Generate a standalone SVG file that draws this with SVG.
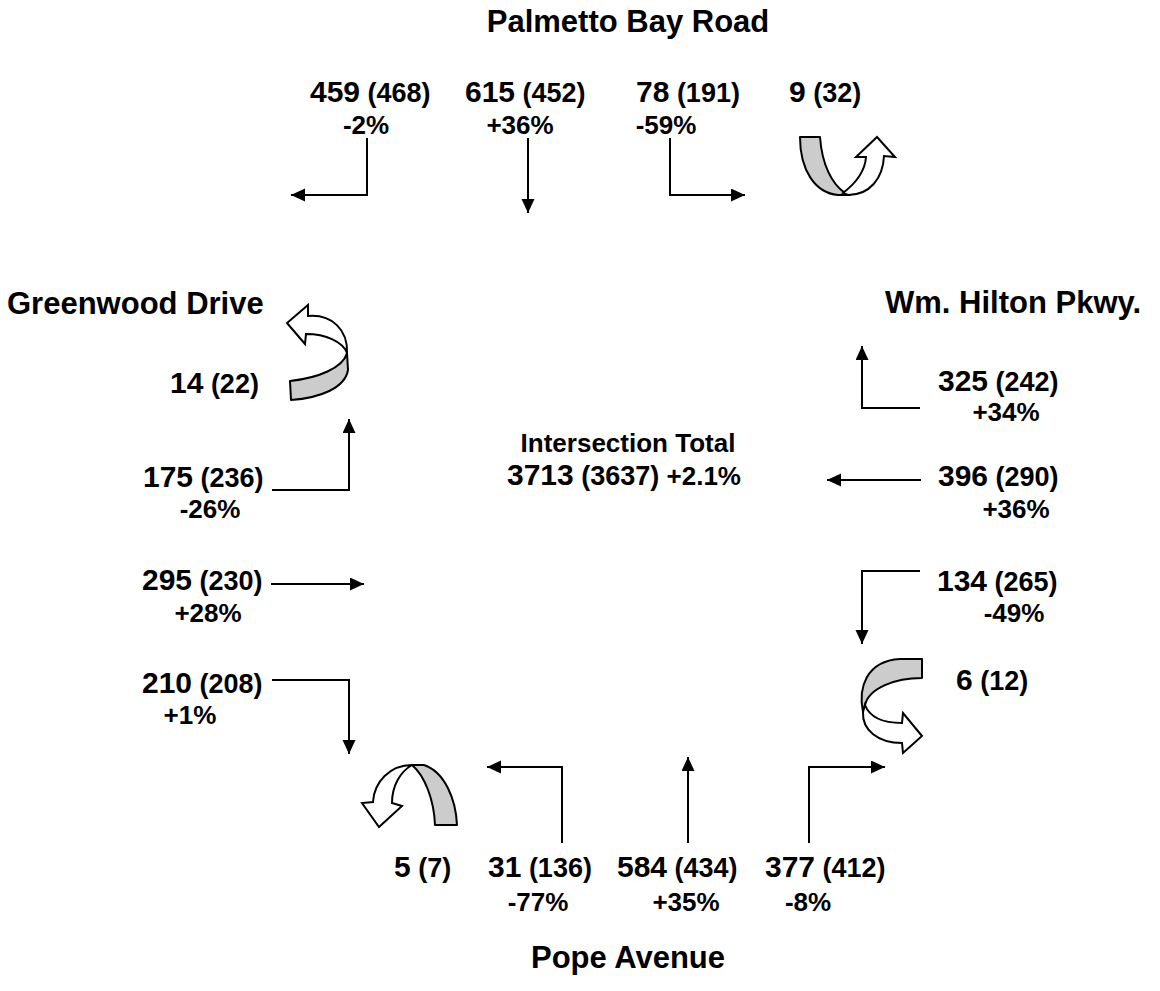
<svg xmlns="http://www.w3.org/2000/svg" width="1160" height="991" viewBox="0 0 1160 991">
<style>
text{font-family:"Liberation Sans",Arial,sans-serif;font-weight:bold;fill:#000}
.road{font-size:31px}
.big{font-size:30px}
.sm{font-size:27px}
.pct{font-size:26px;text-anchor:middle}
.mid{text-anchor:middle}
.arr{fill:none;stroke:#000;stroke-width:2;marker-end:url(#ah)}
.gray{fill:#cccccc;stroke:#000;stroke-width:2;stroke-linejoin:round}
.white{fill:#fff;stroke:#000;stroke-width:2;stroke-linejoin:miter}
</style>
<defs>
<marker id="ah" markerUnits="userSpaceOnUse" markerWidth="15" markerHeight="14" refX="14" refY="6.5" orient="auto">
<path d="M0,0 L14,6.5 L0,13 Z" fill="#000"/>
</marker>
</defs>
<rect width="1160" height="991" fill="#fff"/>

<g id="roads">
<text class="road mid" x="628" y="32">Palmetto Bay Road</text>
<text class="road" x="7" y="314">Greenwood Drive</text>
<text class="road" x="885" y="313">Wm. Hilton Pkwy.</text>
<text class="road mid" x="628" y="968">Pope Avenue</text>
</g>

<g id="total">
<text class="mid" style="font-size:26px" x="628" y="452">Intersection Total</text>
<text class="mid" x="624" y="485"><tspan class="big">3713</tspan><tspan style="font-size:27px"> (3637)</tspan><tspan style="font-size:26px"> +2.1%</tspan></text>
</g>

<g id="connectors">
<path class="arr" d="M367,138 V195 H291"/>
<path class="arr" d="M528,138 V213"/>
<path class="arr" d="M670,138 V195 H745"/>
<path class="arr" d="M272,490 H349 V419"/>
<path class="arr" d="M271,584 H364"/>
<path class="arr" d="M272,680 H349 V754"/>
<path class="arr" d="M562,843 V767 H487"/>
<path class="arr" d="M688,843 V757"/>
<path class="arr" d="M809,843 V767 H885"/>
<path class="arr" d="M920,408 H862 V346"/>
<path class="arr" d="M921,480 H827"/>
<path class="arr" d="M920,571 H862 V644"/>
</g>

<g id="sb-right">
<text x="310" y="102"><tspan class="big">459</tspan><tspan class="sm"> (468)</tspan></text>
<text class="pct" x="366" y="134">-2%</text>
</g>
<g id="sb-through">
<text x="465" y="102"><tspan class="big">615</tspan><tspan class="sm"> (452)</tspan></text>
<text class="pct" x="520" y="134">+36%</text>
</g>
<g id="sb-left">
<text x="636" y="102"><tspan class="big">78</tspan><tspan class="sm"> (191)</tspan></text>
<text class="pct" x="666" y="134">-59%</text>
</g>
<g id="sb-uturn">
<text x="789" y="102"><tspan class="big">9</tspan><tspan class="sm"> (32)</tspan></text>
<path class="gray" d="M800,137 L820,137 C822,165 832,184 845,193 L850,195 L838,195 C815,193 800,170 800,137 Z"/>
<path class="white" d="M843,193 C856,183 865,172 866,157 L856,157 L877,137 L895,157 L884,156 C883,178 870,195 848,195 Z"/>
</g>

<g id="eb-uturn">
<text x="170" y="393"><tspan class="big">14</tspan><tspan class="sm"> (22)</tspan></text>
<path class="gray" d="M347,353 L348,370 C345,388 320,398 291,400 L290,381 C318,378 343,368 347,353 Z"/>
<path class="white" d="M347,353 C343,342 326,334 306,334 L305,344 L287,323 L308,305 L308,316 C332,314 348,330 347,353 Z"/>
</g>
<g id="eb-left">
<text x="143" y="487"><tspan class="big">175</tspan><tspan class="sm"> (236)</tspan></text>
<text class="pct" x="210" y="518">-26%</text>
</g>
<g id="eb-through">
<text x="142" y="590"><tspan class="big">295</tspan><tspan class="sm"> (230)</tspan></text>
<text class="pct" x="208" y="622">+28%</text>
</g>
<g id="eb-right">
<text x="142" y="693"><tspan class="big">210</tspan><tspan class="sm"> (208)</tspan></text>
<text class="pct" x="190" y="724">+1%</text>
</g>

<g id="nb-uturn">
<text x="394" y="877"><tspan class="big">5</tspan><tspan class="sm"> (7)</tspan></text>
<path class="gray" d="M412,765 L424,765 C445,772 456,800 457,825 L435,825 C434,800 425,776 412,765 Z"/>
<path class="white" d="M412,765 C400,772 392,786 392,803 L402,806 L379,827 L362,803 L373,802 C374,782 390,765 412,765 Z"/>
</g>
<g id="nb-left">
<text x="488" y="877"><tspan class="big">31</tspan><tspan class="sm"> (136)</tspan></text>
<text class="pct" x="538" y="911">-77%</text>
</g>
<g id="nb-through">
<text x="617" y="877"><tspan class="big">584</tspan><tspan class="sm"> (434)</tspan></text>
<text class="pct" x="686" y="911">+35%</text>
</g>
<g id="nb-right">
<text x="765" y="877"><tspan class="big">377</tspan><tspan class="sm"> (412)</tspan></text>
<text class="pct" x="808" y="911">-8%</text>
</g>

<g id="wb-right">
<text x="938" y="391"><tspan class="big">325</tspan><tspan class="sm"> (242)</tspan></text>
<text class="pct" x="1006" y="421">+34%</text>
</g>
<g id="wb-through">
<text x="938" y="486"><tspan class="big">396</tspan><tspan class="sm"> (290)</tspan></text>
<text class="pct" x="1016" y="518">+36%</text>
</g>
<g id="wb-left">
<text x="937" y="591"><tspan class="big">134</tspan><tspan class="sm"> (265)</tspan></text>
<text class="pct" x="1014" y="622">-49%</text>
</g>
<g id="wb-uturn">
<text x="956" y="690"><tspan class="big">6</tspan><tspan class="sm"> (12)</tspan></text>
<path class="gray" d="M922,659 L922,678 C895,678 869,688 865,705 L863,712 C858,688 866,661 900,659 Z"/>
<path class="white" d="M865,705 C870,718 885,723 902,723 L903,713 L922,736 L903,753 L902,743 C878,743 862,730 863,712 Z"/>
</g>
</svg>
